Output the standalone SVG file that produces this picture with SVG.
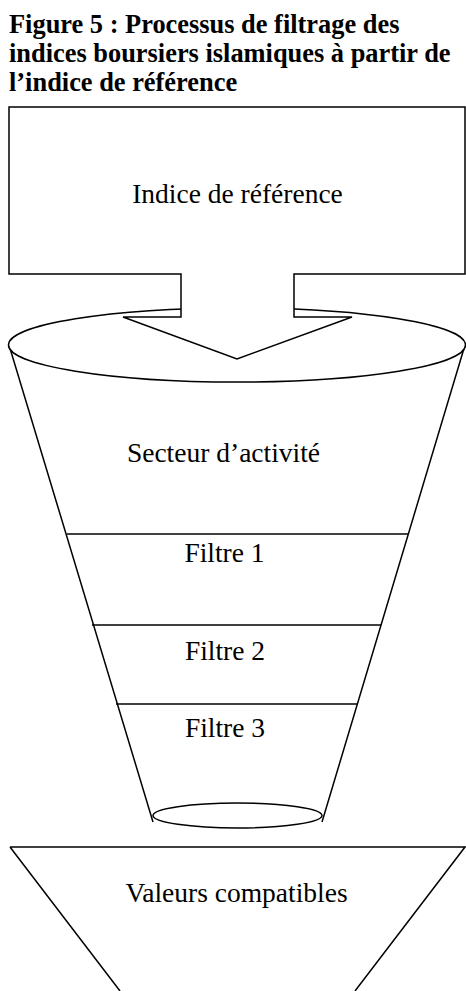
<svg xmlns="http://www.w3.org/2000/svg" width="466" height="991" viewBox="0 0 466 991">
<style>
.s{fill:#fff;stroke:#000;stroke-width:1.5;stroke-linejoin:miter}
.l{stroke:#000;stroke-width:1.5;fill:none}
.t{font-family:"Liberation Serif","Times New Roman",serif;font-size:27.5px;fill:#000;text-anchor:middle}
.h{font-family:"Liberation Serif","Times New Roman",serif;font-size:26.4px;font-weight:bold;fill:#000}
</style>
<rect width="466" height="991" fill="#fff"/>
<g id="title">
<text class="h" x="9" y="33">Figure 5 : Processus de filtrage des</text>
<text class="h" x="9" y="62">indices boursiers islamiques à partir de</text>
<text class="h" x="9" y="91">l’indice de référence</text>
</g>
<g id="funnel">
<path class="l" d="M9,345 L153,822 M465,345 L322,822"/>
<ellipse class="s" cx="237" cy="345" rx="228.5" ry="37"/>
<ellipse class="s" cx="237.5" cy="815.5" rx="84.5" ry="12.5"/>
</g>
<g id="indice-reference">
<path class="s" d="M9,107 H465 V274 H294 V317 H352 L237,359 L123,317 H181 V274 H9 Z"/>
<text class="t" x="237.5" y="203">Indice de référence</text>
</g>
<g id="secteur">
<text class="t" x="223.5" y="462">Secteur d’activité</text>
</g>
<g id="connectors">
<line class="l" x1="67" y1="534" x2="408" y2="534"/>
<line class="l" x1="92" y1="625" x2="381" y2="625"/>
<line class="l" x1="116" y1="704" x2="358" y2="704"/>
</g>
<g id="filtre1">
<text class="t" x="224.5" y="562">Filtre 1</text>
</g>
<g id="filtre2">
<text class="t" x="225" y="660">Filtre 2</text>
</g>
<g id="filtre3">
<text class="t" x="225" y="737">Filtre 3</text>
</g>
<g id="valeurs">
<path class="s" d="M10,847 H465 L355,991 M120,991 L10,847"/>
<text class="t" x="236.5" y="902">Valeurs compatibles</text>
</g>
</svg>
